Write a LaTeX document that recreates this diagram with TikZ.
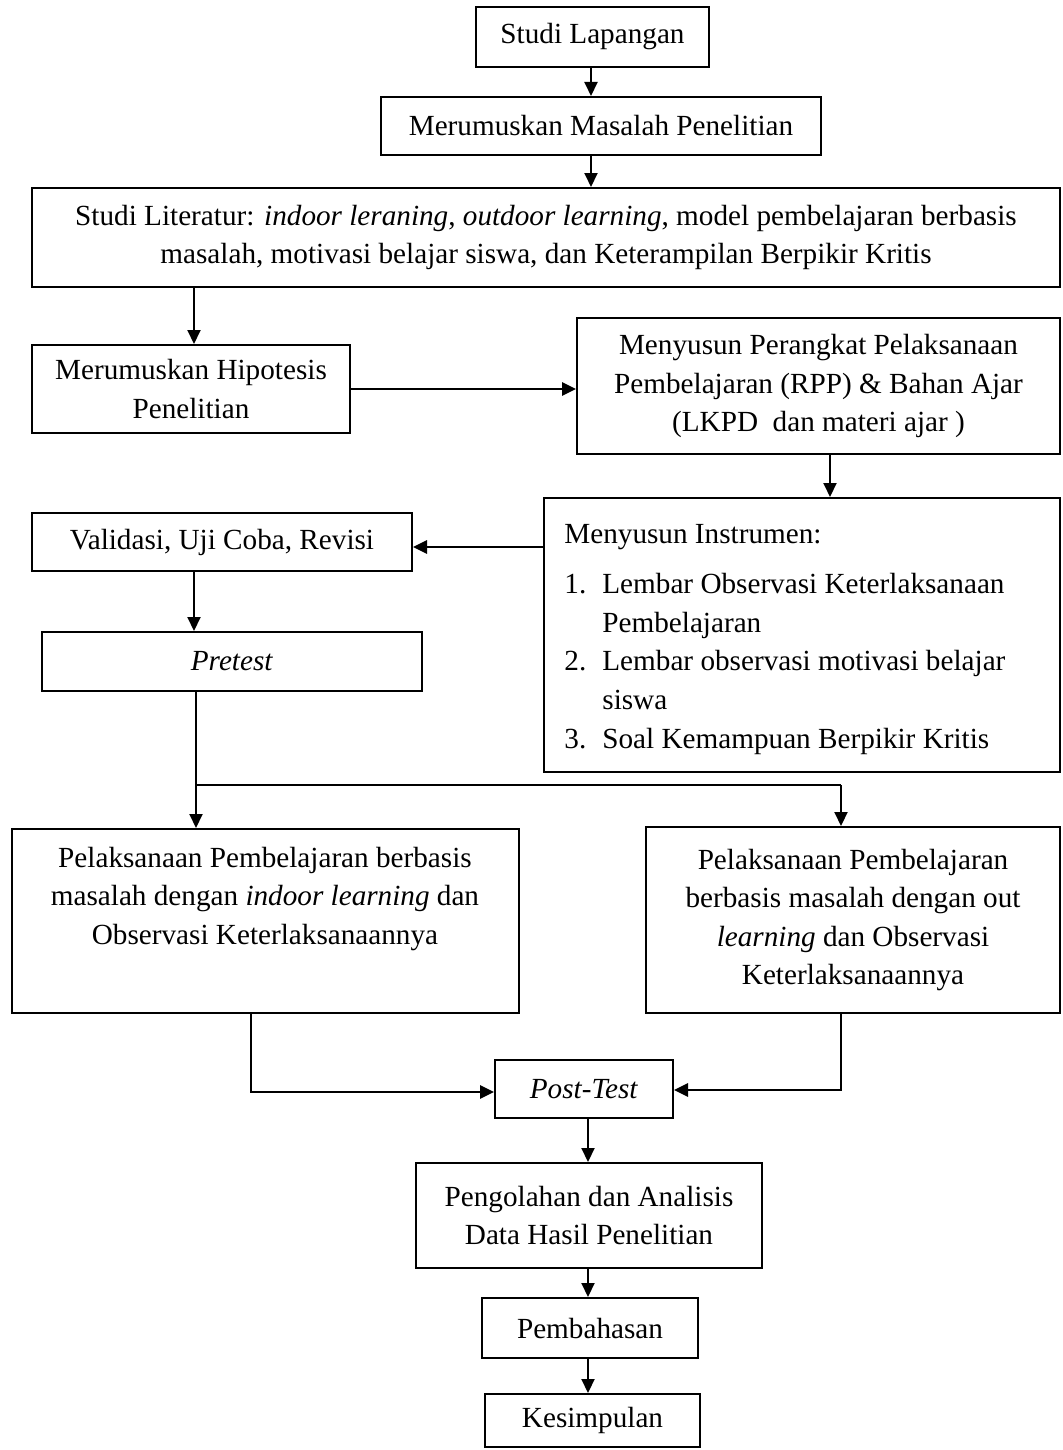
\documentclass[tikz,border=0pt]{standalone}
\usepackage{fontspec}
\setmainfont{Liberation Serif}
\usetikzlibrary{arrows.meta,calc}
\newcommand\diafont{\fontsize{14.6pt}{19.3pt}\selectfont}
\begin{document}
\begin{tikzpicture}[x=0.5pt,y=-0.5pt,
  box/.style={draw, line width=1pt, inner sep=0pt, align=center, font=\diafont},
  txt/.style={inner sep=0pt, font=\diafont},
  arr/.style={line width=1pt, -{Triangle[length=7pt,width=6.5pt]}},
  thickarr/.style={line width=1.4pt, -{Triangle[length=7pt,width=6.5pt]}},
  ln/.style={line width=1pt}]
\useasboundingbox (0,0) rectangle (1062,1450);

% boxes
\node[box, minimum width=116.5pt, minimum height=30pt] (sl) at (592.5,37) {Studi Lapangan};
\node[box, minimum width=220pt, minimum height=29pt] (mm) at (601,126) {Merumuskan Masalah Penelitian};
\node[box, minimum width=514pt, minimum height=49.5pt] (lit) at (546,237.5) {Studi Literatur: \textit{indoor leraning}, \textit{outdoor learning}, model pembelajaran berbasis\\masalah, motivasi belajar siswa, dan Keterampilan Berpikir Kritis};
\node[box, minimum width=159pt, minimum height=44pt] (hip) at (191,389) {Merumuskan Hipotesis\\Penelitian};
\node[box, minimum width=241.5pt, minimum height=68pt] (per) at (818.5,386) {Menyusun Perangkat Pelaksanaan\\Pembelajaran (RPP) \& Bahan Ajar\\(LKPD\ \ dan materi ajar )};
\node[box, minimum width=258pt, minimum height=137pt] (ins) at (802,635) {};
\node[txt, anchor=base west, text width=250pt, align=flush left] (instxt) at (564,543) {Menyusun Instrumen:\\[6pt]
\makebox[19pt][l]{1.}Lembar Observasi Keterlaksanaan\\
\hspace*{19pt}Pembelajaran\\
\makebox[19pt][l]{2.}Lembar observasi motivasi belajar\\
\hspace*{19pt}siswa\\
\makebox[19pt][l]{3.}Soal Kemampuan Berpikir Kritis};
\node[box, minimum width=190pt, minimum height=29pt] (val) at (222,542) {Validasi, Uji Coba, Revisi};
\node[box, minimum width=190pt, minimum height=29.5pt] (pre) at (232,661.5) {\textit{Pretest}};
\node[box, minimum width=253.5pt, minimum height=92pt] (pl) at (265.5,921) {};
\node[txt, anchor=base, text width=240pt, align=flush center] (pltxt) at (265,867) {Pelaksanaan Pembelajaran berbasis\\masalah dengan \textit{indoor learning} dan\\Observasi Keterlaksanaannya};
\node[box, minimum width=207pt, minimum height=93pt] (pr) at (853,920) {Pelaksanaan Pembelajaran\\berbasis masalah dengan out\\\textit{learning} dan Observasi\\Keterlaksanaannya};
\node[box, minimum width=89pt, minimum height=29pt] (pt) at (584,1089) {\textit{Post-Test}};
\node[box, minimum width=173pt, minimum height=52.5pt] (po) at (589,1215.5) {Pengolahan dan Analisis\\Data Hasil Penelitian};
\node[box, minimum width=108pt, minimum height=30pt] (pb) at (590,1328) {Pembahasan};
\node[box, minimum width=107.5pt, minimum height=26.5pt] (ks) at (592.5,1420.5) {Kesimpulan};

% helper coordinates
\coordinate (cx) at (591,0);
\coordinate (lx) at (194,0);
\coordinate (px) at (830,0);
\coordinate (vy) at (0,547);
\coordinate (jl) at (196,785);
\coordinate (jr) at (841,785);
\coordinate (bl) at (251,1092);
\coordinate (br) at (841,1090);
\coordinate (dx) at (588,0);

% connectors
\draw[arr] (sl.south -| cx) -- (mm.north -| cx);
\draw[arr] (mm.south -| cx) -- (lit.north -| cx);
\draw[arr] (lit.south -| lx) -- (hip.north -| lx);
\draw[thickarr] (hip.east) -- (per.west |- hip.east);
\draw[arr] (per.south -| px) -- (ins.north -| px);
\draw[thickarr] (ins.west |- vy) -- (val.east |- vy);
\draw[arr] (val.south -| lx) -- (pre.north -| lx);
\draw[ln] (pre.south -| jl) -- (jl);
\draw[arr] (jl) -- (pl.north -| jl);
\draw[ln] (jl) -- (jr);
\draw[arr] (jr) -- (pr.north -| jr);
\draw[thickarr] (pl.south -| bl) -- (bl) -- (pt.west |- bl);
\draw[thickarr] (pr.south -| br) -- (br) -- (pt.east |- br);
\draw[arr] (pt.south -| dx) -- (po.north -| dx);
\draw[arr] (po.south -| dx) -- (pb.north -| dx);
\draw[arr] (pb.south -| dx) -- (ks.north -| dx);
\end{tikzpicture}
\end{document}
